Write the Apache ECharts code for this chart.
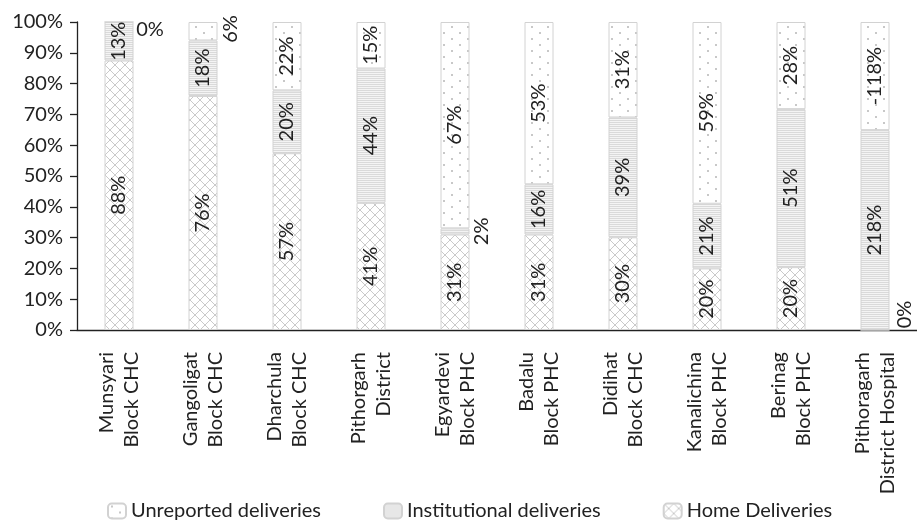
<!DOCTYPE html>
<html>
<head>
<meta charset="utf-8">
<script src="https://cdn.jsdelivr.net/npm/echarts@6/dist/echarts.min.js"></script>
<style>
html,body{margin:0;padding:0;background:#fff;}
#chart{width:917px;height:521px;}
</style>
</head>
<body>
<div id="chart"></div>
<script>
// ---- data (values as labelled, in %) ----
const categories = ['Munsyari\nBlock CHC', 'Gangoligat\nBlock CHC', 'Dharchula\nBlock CHC', 'Pithorgarh\nDistrict', 'Egyardevi\nBlock PHC', 'Badalu\nBlock PHC', 'Didihat\nBlock CHC', 'Kanalichina\nBlock PHC', 'Berinag\nBlock PHC', 'Pithoragarh\nDistrict Hospital'];
const home = [87.5, 76, 57.4, 41.3, 31, 31, 30.1, 20, 20.4, 0];
const institutional = [12.5, 18, 20.4, 43.6, 2, 16.3, 38.9, 21, 51.3, 218];
const unreported = [0, 6, 22.2, 15.1, 67, 52.7, 31, 59, 28.3, -118];
const seriesNames = ['Unreported deliveries', 'Institutional deliveries', 'Home Deliveries'];
const yTicks = [0, 10, 20, 30, 40, 50, 60, 70, 80, 90, 100];

const FONT = 'Lato';
const FS = 20;

// ---- patterns ----
function makeCanvas(w, h, draw) {
  const c = document.createElement('canvas');
  c.width = w; c.height = h;
  const ctx = c.getContext('2d');
  draw(ctx, w, h);
  return c;
}
const dotPattern = makeCanvas(16, 12, (ctx, w, h) => {
  ctx.fillStyle = '#ffffff'; ctx.fillRect(0, 0, w, h);
  ctx.fillStyle = '#c8c8c8';
  ctx.fillRect(3, 2, 2, 2);
  ctx.fillRect(11, 8, 2, 2);
});
const linePattern = makeCanvas(4, 2, (ctx, w, h) => {
  ctx.fillStyle = '#f4f4f4'; ctx.fillRect(0, 0, w, h);
  ctx.fillStyle = '#dadada'; ctx.fillRect(0, 0, w, 1);
});
const crossPattern = makeCanvas(10, 10, (ctx, w, h) => {
  ctx.fillStyle = '#ffffff'; ctx.fillRect(0, 0, w, h);
  ctx.strokeStyle = '#cacaca'; ctx.lineWidth = 1;
  ctx.beginPath();
  ctx.moveTo(-1, -1); ctx.lineTo(11, 11);
  ctx.moveTo(11, -1); ctx.lineTo(-1, 11);
  ctx.stroke();
});
const fills = {
  'Unreported deliveries': { image: dotPattern, repeat: 'repeat' },
  'Institutional deliveries': { image: linePattern, repeat: 'repeat' },
  'Home Deliveries': { image: crossPattern, repeat: 'repeat' }
};

// ---- 100% stacking (share of absolute totals, as the source chart does) ----
const totals = categories.map((_, i) => Math.abs(home[i]) + Math.abs(institutional[i]) + Math.abs(unreported[i]));
function shares(arr) {
  return arr.map((v, i) => ({ value: Math.abs(v) / totals[i] * 100, raw: v }));
}

// label placement for tiny segments (series name -> index -> label option)
const labelOverrides = {
  'Unreported deliveries': {
    0: { position: [46, 8], rotate: 0 },
    1: { position: [42, 7] }
  },
  'Institutional deliveries': {
    4: { position: [41, 3] }
  },
  'Home Deliveries': {
    9: { position: [45, -15] }
  }
};

function buildSeries(name, arr) {
  const data = shares(arr).map((d, i) => {
    const o = { value: d.value, raw: d.raw };
    const ov = (labelOverrides[name] || {})[i];
    if (ov) o.label = Object.assign({ align: 'center', verticalAlign: 'middle' }, ov);
    return o;
  });
  return {
    name: name,
    type: 'bar',
    stack: 'total',
    barWidth: 29,
    data: data,
    itemStyle: { color: fills[name], borderColor: '#d2d2d2', borderWidth: 1 },
    emphasis: { disabled: true },
    label: {
      show: true,
      position: 'inside',
      rotate: 90,
      align: 'center',
      verticalAlign: 'middle',
      color: '#222',
      fontFamily: FONT,
      fontSize: FS,
      formatter: p => Math.round(p.data.raw) + '%'
    }
  };
}

const chart = echarts.init(document.getElementById('chart'), null, { renderer: 'canvas' });
chart.setOption({
  animation: false,
  backgroundColor: '#ffffff',
  grid: { left: 77, top: 22, width: 844, height: 308, containLabel: false },
  legend: {
    data: seriesNames,
    left: 102,
    top: 496,
    itemWidth: 18,
    itemHeight: 15,
    itemGap: 62,
    textStyle: { fontFamily: FONT, fontSize: FS, color: '#222' },
    selectedMode: false
  },
  xAxis: {
    type: 'category',
    data: categories,
    axisLine: { lineStyle: { color: '#222', width: 1.3 } },
    axisTick: { length: 7, lineStyle: { color: '#222', width: 1.3 } },
    axisLabel: { rotate: 90, interval: 0, margin: 22, color: '#222', fontFamily: FONT, fontSize: FS, lineHeight: 25 }
  },
  yAxis: {
    type: 'value',
    min: yTicks[0],
    max: yTicks[yTicks.length - 1],
    interval: yTicks[1] - yTicks[0],
    splitLine: { show: false },
    axisLine: { show: true, lineStyle: { color: '#222', width: 1.3 } },
    axisTick: { show: true, length: 7, lineStyle: { color: '#222', width: 1.3 } },
    axisLabel: { margin: 14, color: '#222', fontFamily: FONT, fontSize: FS, formatter: '{value}%' }
  },
  series: [
    buildSeries('Home Deliveries', home),
    buildSeries('Institutional deliveries', institutional),
    buildSeries('Unreported deliveries', unreported)
  ]
});
</script>
</body>
</html>
